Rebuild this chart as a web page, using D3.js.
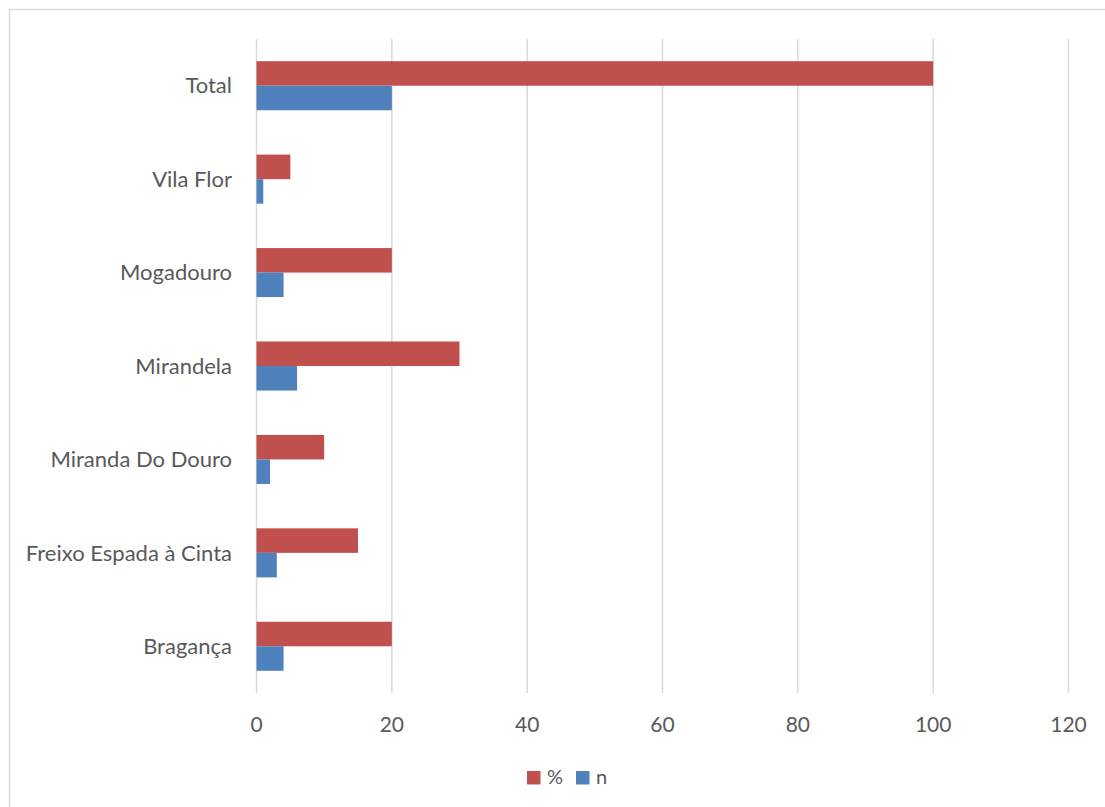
<!DOCTYPE html>
<html>
<head>
<meta charset="utf-8">
<script src="https://cdn.jsdelivr.net/npm/d3@7"></script>
<style>
  html, body { margin: 0; padding: 0; background: #fff; }
  svg { display: block; }
</style>
</head>
<body>
<svg id="chart" width="1105" height="807"></svg>
<script>
// Data (top-to-bottom order as drawn)
const categories = ["Total", "Vila Flor", "Mogadouro", "Mirandela", "Miranda Do Douro", "Freixo Espada à Cinta", "Bragança"];
const pctValues = [100, 5, 20, 30, 10, 15, 20];
const nValues = [20, 1, 4, 6, 2, 3, 4];
const seriesNames = ["%", "n"];
const xTicks = [0, 20, 40, 60, 80, 100, 120];

const colors = { "%": "#C0504D", "n": "#4F81BD" };
const font = "Lato, 'Open Sans', sans-serif";
const textColor = "#595959";

const svg = d3.select("#chart");

// Outer chart border
svg.append("rect")
  .attr("x", 9.5).attr("y", 9.5)
  .attr("width", 1110).attr("height", 810)
  .attr("fill", "none").attr("stroke", "#D9D9D9").attr("stroke-width", 1.5);

const plot = { left: 256.5, right: 1068.5, top: 39, bottom: 693 };

const x = d3.scaleLinear().domain([0, 120]).range([plot.left, plot.right]);
const y = d3.scaleBand().domain(categories).range([plot.top, plot.bottom]).paddingInner(0.475).paddingOuter(0.2375);
const ySub = d3.scaleBand().domain(seriesNames).range([0, y.bandwidth()]);

// Gridlines
svg.append("g").selectAll("line").data(xTicks).join("line")
  .attr("x1", d => x(d)).attr("x2", d => x(d))
  .attr("y1", plot.top).attr("y2", plot.bottom)
  .attr("stroke", "#D9D9D9").attr("stroke-width", 1.5);

// Bars
const rows = categories.map((c, i) => ({ cat: c, values: [{ s: "%", v: pctValues[i] }, { s: "n", v: nValues[i] }] }));
const groups = svg.append("g").selectAll("g").data(rows).join("g")
  .attr("transform", d => `translate(0,${y(d.cat)})`);
groups.selectAll("rect").data(d => d.values).join("rect")
  .attr("x", x(0))
  .attr("y", d => ySub(d.s))
  .attr("width", d => x(d.v) - x(0))
  .attr("height", ySub.bandwidth())
  .attr("fill", d => colors[d.s]);

// Category labels
svg.append("g").selectAll("text").data(categories).join("text")
  .attr("x", 232)
  .attr("y", d => y(d) + y.bandwidth() / 2)
  .attr("dy", "0.35em")
  .attr("text-anchor", "end")
  .attr("font-family", font).attr("font-size", 22)
  .attr("fill", textColor)
  .text(d => d);

// X tick labels
svg.append("g").selectAll("text").data(xTicks).join("text")
  .attr("x", d => x(d))
  .attr("y", 732)
  .attr("text-anchor", "middle")
  .attr("font-family", font).attr("font-size", 21)
  .attr("fill", textColor)
  .text(d => d);

// Legend
const legendItems = [
  { name: "%", x: 527 },
  { name: "n", x: 576 }
];
const lg = svg.append("g").selectAll("g").data(legendItems).join("g")
  .attr("transform", d => `translate(${d.x},771)`);
lg.append("rect").attr("width", 13.5).attr("height", 13.5).attr("fill", d => colors[d.name]);
lg.append("text").attr("x", 20).attr("y", 13)
  .attr("font-family", font).attr("font-size", 20)
  .attr("fill", textColor)
  .text(d => d.name);
</script>
</body>
</html>
